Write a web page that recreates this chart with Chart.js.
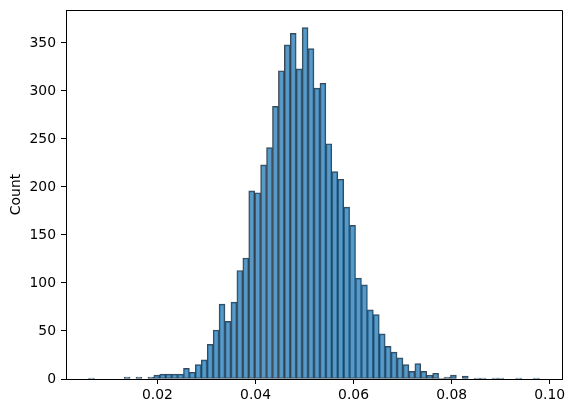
<!DOCTYPE html>
<html>
<head>
<meta charset="utf-8">
<script src="https://cdn.jsdelivr.net/npm/chart.js@4"></script>
<style>
  html, body { margin: 0; padding: 0; background: #fff; }
  canvas { display: block; }
</style>
</head>
<body>
<canvas id="hist" width="573" height="413"></canvas>
<script>
// histogram counts, one per bin (76 bins)
const counts = [
  1, 0, 0, 0, 0, 0, 2, 0, 2, 0,
  2, 4, 5, 5, 5, 5, 11, 7, 15, 20,
  36, 51, 78, 60, 80, 113, 126, 196, 194, 223,
  241, 284, 321, 348, 360, 323, 366, 344, 303, 308,
  245, 216, 208, 179, 160, 105, 98, 72, 67, 47,
  34, 28, 22, 15, 8, 16, 8, 4, 6, 1,
  2, 4, 0, 3, 0, 1, 1, 0, 1, 1,
  0, 0, 1, 0, 0, 1
];
const binLo = 0.005936;   // left edge of first bin
const binHi = 0.09792;    // right edge of last bin
const xTicks = [0.02, 0.04, 0.06, 0.08, 0.10];
const yTicks = [0, 50, 100, 150, 200, 250, 300, 350];

document.addEventListener('DOMContentLoaded', () => {
    const nBins = counts.length;
    const w = (binHi - binLo) / nBins;
    const points = counts.map((c, i) => ({ x: binLo + w * (i + 0.5), y: c }));

    // matplotlib style margins (5% each side)
    const xPad = (binHi - binLo) * 0.05;
    const yMax = Math.max(...counts) * 1.05;

    const font = { family: 'DejaVu Sans', size: 13.9 };

    // top and right spines
    const frame = {
        id: 'frame',
        afterDraw(chart) {
            const { ctx, chartArea: a } = chart;
            ctx.save();
            ctx.strokeStyle = '#000';
            ctx.lineWidth = 1;
            ctx.beginPath();
            ctx.moveTo(Math.round(a.left) + 0.5, Math.round(a.top) + 0.5);
            ctx.lineTo(Math.round(a.right) + 0.5, Math.round(a.top) + 0.5);
            ctx.lineTo(Math.round(a.right) + 0.5, Math.round(a.bottom) + 0.5);
            ctx.stroke();
            ctx.restore();
        }
    };

    new Chart(document.getElementById('hist'), {
        type: 'bar',
        data: {
            datasets: [{
                data: points,
                backgroundColor: 'rgba(31, 119, 180, 0.75)',
                borderColor: 'rgba(38, 52, 66, 0.9)',
                borderWidth: 1,
                borderSkipped: false,
                barPercentage: 1,
                categoryPercentage: 1
            }]
        },
        options: {
            responsive: false,
            animation: false,
            layout: { padding: { left: 0, right: 11, top: 10, bottom: 0 } },
            plugins: {
                legend: { display: false },
                tooltip: { enabled: false }
            },
            scales: {
                x: {
                    type: 'linear',
                    offset: false,
                    min: binLo - xPad,
                    max: binHi + xPad,
                    afterBuildTicks: s => { s.ticks = xTicks.map(v => ({ value: v })); },
                    afterFit: s => { s.height = 34; s.paddingLeft = 0; s.paddingRight = 0; },
                    ticks: {
                        color: '#000',
                        font: font,
                        padding: 3,
                        maxRotation: 0,
                        autoSkip: false,
                        callback: v => v.toFixed(2)
                    },
                    grid: { display: true, offset: false, drawOnChartArea: false, drawTicks: true, tickLength: 5, color: '#000' },
                    border: { display: true, color: '#000', width: 1 }
                },
                y: {
                    min: 0,
                    max: yMax,
                    afterBuildTicks: s => { s.ticks = yTicks.map(v => ({ value: v })); },
                    afterFit: s => { s.width = 66; s.paddingTop = 0; s.paddingBottom = 0; },
                    ticks: {
                        color: '#000',
                        font: font,
                        padding: 5,
                        callback: v => String(v)
                    },
                    title: {
                        display: true,
                        text: 'Count',
                        color: '#000',
                        font: font,
                        padding: { top: 8, bottom: 0 }
                    },
                    grid: { display: true, drawOnChartArea: false, drawTicks: true, tickLength: 5, color: '#000' },
                    border: { display: true, color: '#000', width: 1 }
                }
            }
        },
        plugins: [frame]
    });
});
</script>
</body>
</html>
